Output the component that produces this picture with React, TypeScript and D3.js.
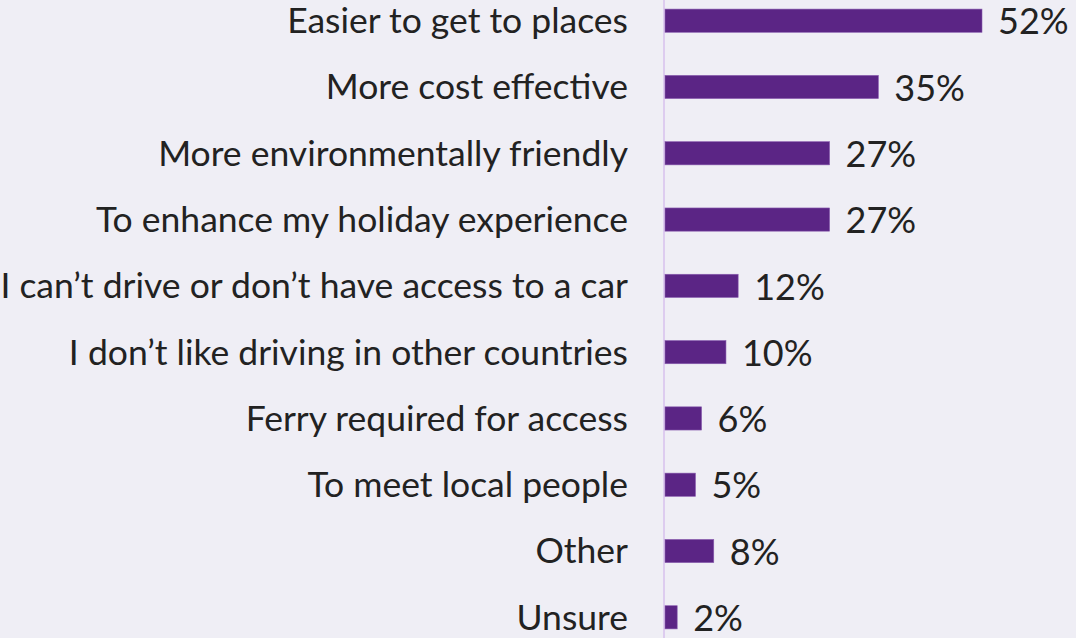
import React from "react";
import * as d3 from "d3";

const categories = [
  "Easier to get to places",
  "More cost effective",
  "More environmentally friendly",
  "To enhance my holiday experience",
  "I can\u2019t drive or don\u2019t have access to a car",
  "I don\u2019t like driving in other countries",
  "Ferry required for access",
  "To meet local people",
  "Other",
  "Unsure",
];
const values = [52, 35, 27, 27, 12, 10, 6, 5, 8, 2];

const W = 1076;
const H = 638;
const BG = "#efeef5";
const BAR = "#5b2585";

export default function App() {
  React.useEffect(() => {
    document.body.style.margin = "0";
    document.body.style.background = BG;
  }, []);

  const x0 = 665;
  const x = d3.scaleLinear().domain([0, 52]).range([x0, 982]);
  const y = d3
    .scaleBand<string>()
    .domain(categories)
    .range([-34, 672])
    .padding(0.65);
  const bw = y.bandwidth();

  return (
    <svg width={W} height={H} style={{ display: "block", background: BG }}>
      <rect x={0} y={0} width={W} height={H} fill={BG} />
      <line x1={664} x2={664} y1={0} y2={H} stroke="#ddccef" strokeWidth={2} />
      {categories.map((c, i) => {
        const yy = y(c)!;
        const cy = yy + bw / 2;
        const v = values[i];
        return (
          <g key={c}>
            <rect
              x={x0}
              y={yy}
              width={x(v) - x0}
              height={bw}
              fill={BAR}
              stroke="#8a5db0"
              strokeWidth={0.6}
            />
            <text
              x={628}
              y={cy}
              dy="0.35em"
              textAnchor="end"
              fontFamily="Lato, sans-serif"
              fontSize={35.5}
              fill="#222"
            >
              {c}
            </text>
            <text
              x={x(v) + 16}
              y={cy}
              dy="0.38em"
              textAnchor="start"
              fontFamily="Lato, sans-serif"
              fontSize={36}
              fill="#222"
            >
              {v + "%"}
            </text>
          </g>
        );
      })}
    </svg>
  );
}
